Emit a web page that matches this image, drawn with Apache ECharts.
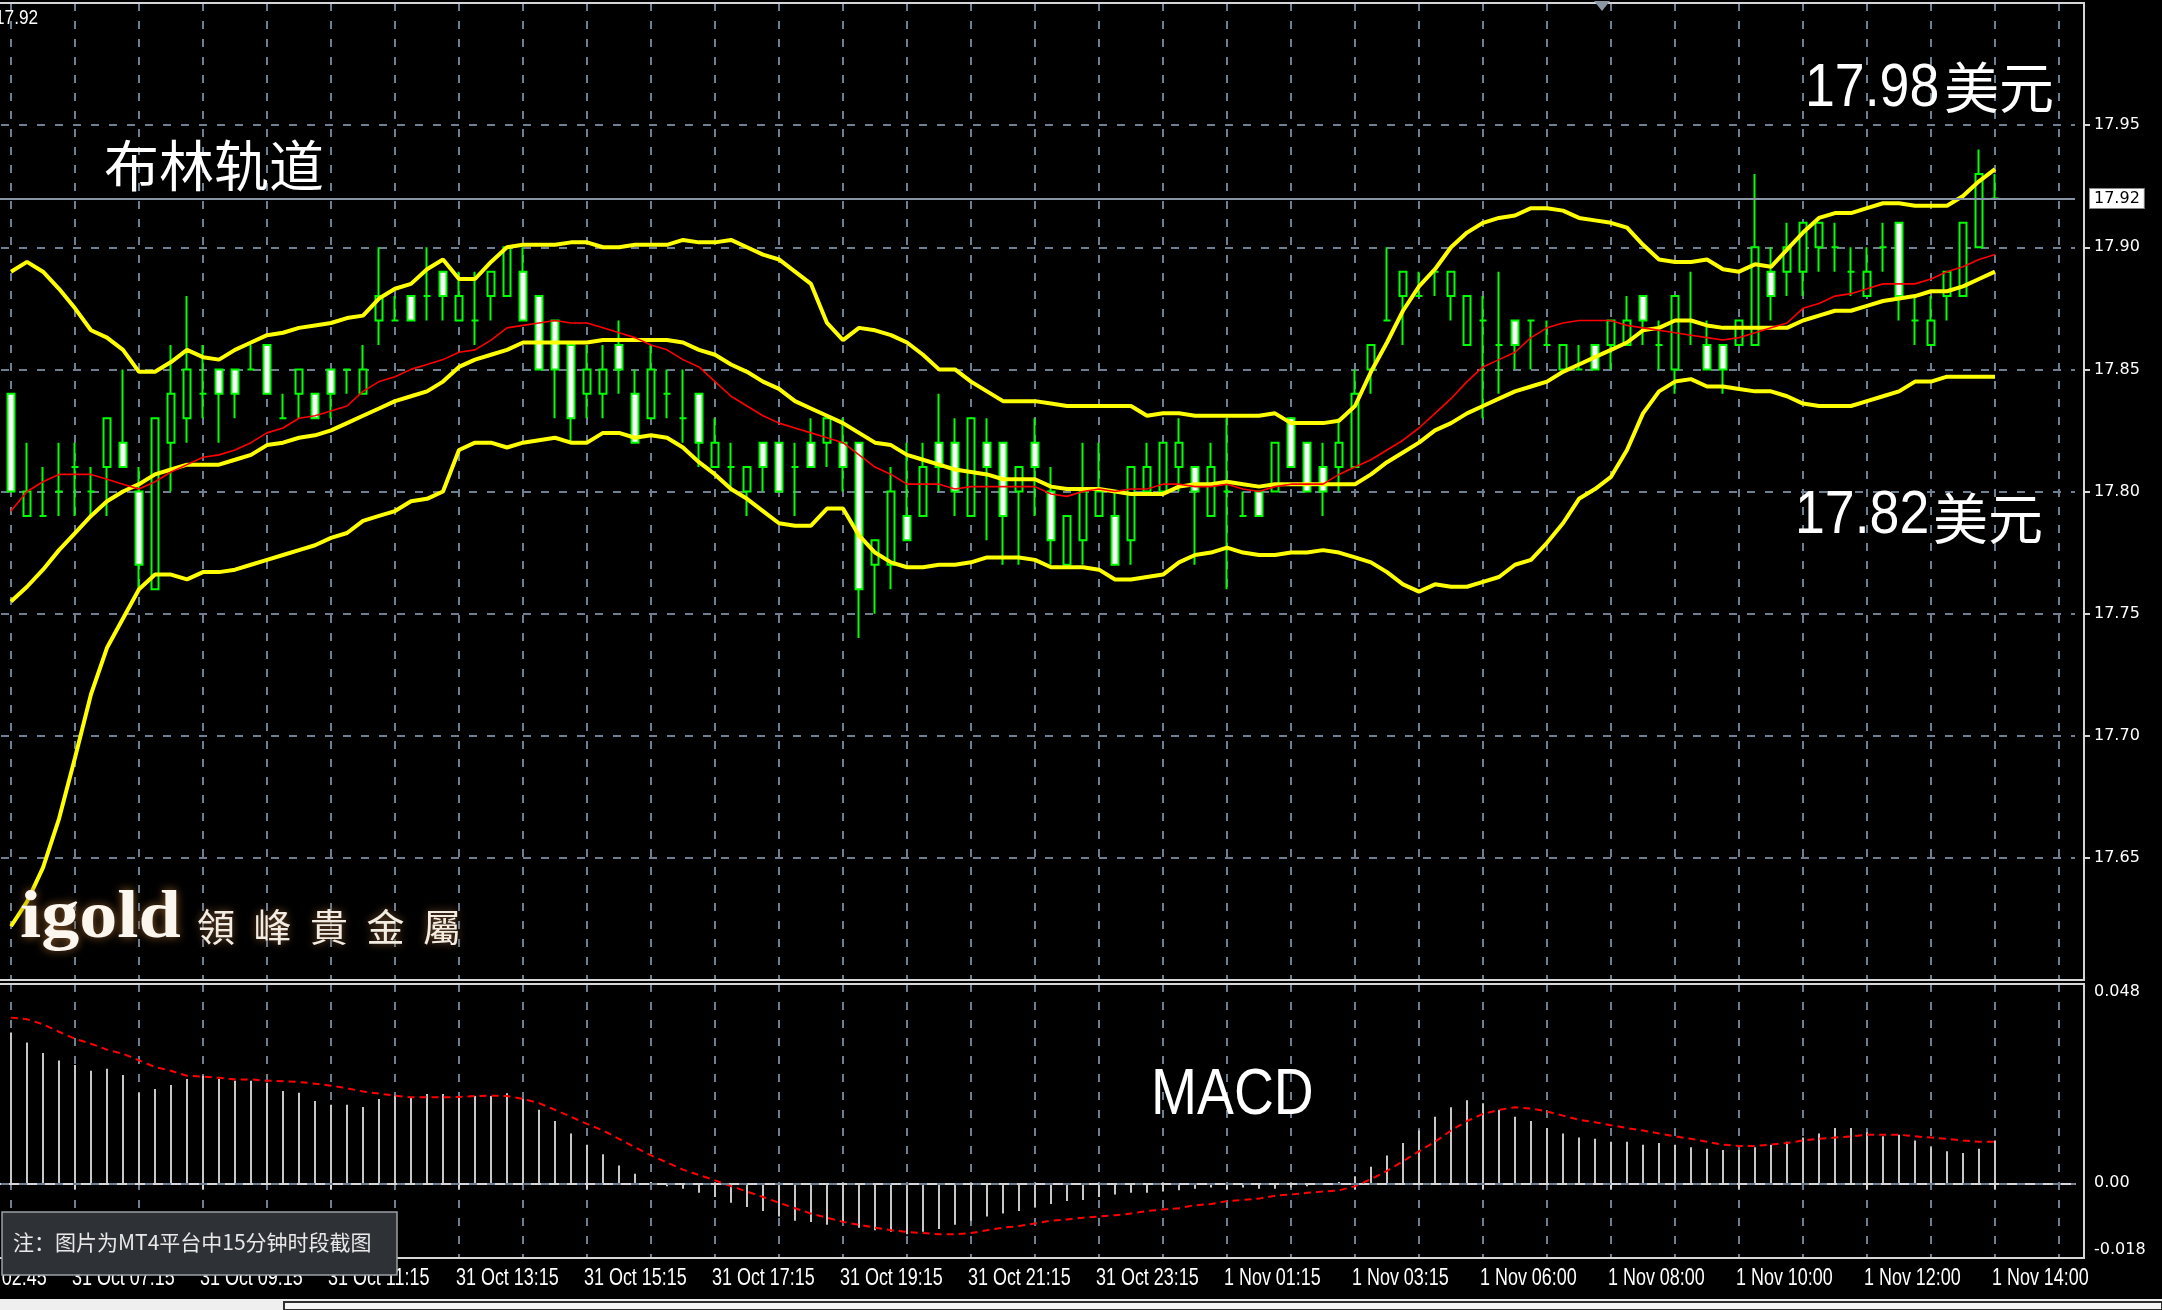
<!DOCTYPE html>
<html>
<head>
<meta charset="utf-8">
<script src="https://cdn.jsdelivr.net/npm/echarts@6/dist/echarts.min.js"></script>
<style>
html,body{margin:0;padding:0;background:#000;overflow:hidden;}
#c{width:2162px;height:1310px;}
</style>
</head>
<body>
<div id="c"></div>
<script>
// ---- data (15-minute bars, XAG/USD) ----
// bar index of each time label, and the label text
const tickBars = [-4, 4, 12, 20, 28, 36, 44, 52, 60, 68, 76, 84, 92, 100, 108, 116, 124];
const tickLabels = ['31 Oct 02:45','31 Oct 07:15','31 Oct 09:15','31 Oct 11:15','31 Oct 13:15','31 Oct 15:15','31 Oct 17:15','31 Oct 19:15','31 Oct 21:15','31 Oct 23:15','1 Nov 01:15','1 Nov 03:15','1 Nov 06:00','1 Nov 08:00','1 Nov 10:00','1 Nov 12:00','1 Nov 14:00'];

// [open, close, low, high]
const candles = [
[17.84,17.80,17.80,17.84],[17.79,17.80,17.79,17.82],[17.79,17.79,17.79,17.81],[17.80,17.80,17.79,17.82],[17.81,17.81,17.79,17.82],
[17.80,17.80,17.79,17.81],[17.81,17.83,17.79,17.83],[17.82,17.81,17.81,17.85],[17.80,17.77,17.76,17.81],[17.76,17.83,17.76,17.83],
[17.82,17.84,17.80,17.86],[17.83,17.85,17.82,17.88],[17.84,17.84,17.83,17.86],[17.85,17.84,17.82,17.85],[17.85,17.84,17.83,17.85],
[17.85,17.85,17.85,17.86],[17.86,17.84,17.84,17.86],[17.83,17.83,17.83,17.84],[17.84,17.85,17.83,17.85],[17.84,17.83,17.83,17.84],
[17.85,17.84,17.83,17.85],[17.85,17.85,17.84,17.85],[17.84,17.85,17.84,17.86],[17.87,17.88,17.86,17.90],[17.87,17.87,17.87,17.88],
[17.88,17.87,17.87,17.88],[17.88,17.88,17.87,17.90],[17.89,17.88,17.87,17.89],[17.87,17.88,17.87,17.89],[17.87,17.87,17.86,17.89],
[17.88,17.89,17.87,17.89],[17.88,17.90,17.88,17.90],[17.89,17.87,17.87,17.90],[17.88,17.85,17.85,17.88],[17.87,17.85,17.83,17.87],
[17.86,17.83,17.82,17.86],[17.84,17.85,17.83,17.86],[17.84,17.85,17.83,17.86],[17.86,17.85,17.84,17.87],[17.84,17.82,17.82,17.85],
[17.83,17.85,17.83,17.86],[17.84,17.84,17.83,17.85],[17.83,17.83,17.82,17.85],[17.84,17.82,17.81,17.84],[17.81,17.82,17.81,17.83],
[17.81,17.81,17.80,17.82],[17.80,17.81,17.79,17.81],[17.82,17.81,17.80,17.82],[17.82,17.80,17.80,17.82],[17.81,17.81,17.79,17.82],
[17.82,17.81,17.81,17.83],[17.82,17.83,17.81,17.83],[17.82,17.81,17.80,17.83],[17.82,17.76,17.74,17.82],[17.77,17.78,17.75,17.78],
[17.77,17.80,17.76,17.81],[17.79,17.78,17.78,17.82],[17.79,17.81,17.79,17.82],[17.82,17.81,17.80,17.84],[17.82,17.80,17.79,17.83],
[17.79,17.83,17.79,17.83],[17.82,17.81,17.78,17.83],[17.82,17.79,17.77,17.82],[17.80,17.81,17.77,17.81],[17.82,17.81,17.79,17.83],
[17.80,17.78,17.77,17.81],[17.77,17.79,17.77,17.79],[17.78,17.80,17.77,17.82],[17.79,17.80,17.79,17.82],[17.79,17.77,17.77,17.80],
[17.78,17.81,17.77,17.81],[17.80,17.81,17.80,17.82],[17.80,17.82,17.80,17.82],[17.81,17.82,17.80,17.83],[17.81,17.80,17.77,17.81],
[17.79,17.81,17.79,17.82],[17.80,17.80,17.76,17.83],[17.79,17.79,17.79,17.80],[17.80,17.79,17.79,17.80],[17.80,17.82,17.80,17.82],
[17.83,17.81,17.81,17.83],[17.82,17.80,17.80,17.82],[17.81,17.80,17.79,17.82],[17.81,17.82,17.80,17.83],[17.81,17.84,17.81,17.85],
[17.85,17.86,17.84,17.86],[17.87,17.87,17.87,17.90],[17.88,17.89,17.86,17.89],[17.88,17.88,17.88,17.89],[17.89,17.89,17.88,17.89],
[17.88,17.89,17.87,17.89],[17.86,17.88,17.86,17.88],[17.87,17.87,17.83,17.88],[17.86,17.86,17.84,17.89],[17.87,17.86,17.85,17.87],
[17.87,17.87,17.85,17.87],[17.86,17.86,17.86,17.87],[17.85,17.86,17.85,17.86],[17.85,17.85,17.85,17.86],[17.86,17.85,17.85,17.86],
[17.86,17.87,17.85,17.87],[17.86,17.87,17.86,17.88],[17.88,17.87,17.86,17.88],[17.86,17.86,17.85,17.87],[17.85,17.88,17.84,17.88],
[17.87,17.87,17.86,17.89],[17.86,17.85,17.85,17.87],[17.86,17.85,17.84,17.86],[17.86,17.87,17.86,17.87],[17.86,17.90,17.86,17.93],
[17.89,17.88,17.87,17.90],[17.89,17.90,17.88,17.91],[17.89,17.91,17.88,17.91],[17.90,17.91,17.89,17.91],[17.90,17.90,17.89,17.91],
[17.89,17.89,17.88,17.90],[17.88,17.89,17.88,17.90],[17.90,17.90,17.89,17.91],[17.91,17.88,17.87,17.91],[17.87,17.87,17.86,17.88],
[17.86,17.87,17.86,17.88],[17.88,17.89,17.87,17.89],[17.88,17.91,17.88,17.91],[17.90,17.93,17.90,17.94],[17.92,17.92,17.92,17.93]
];

const bollUpper = [17.890,17.894,17.890,17.883,17.875,17.866,17.863,17.858,17.849,17.849,
17.853,17.858,17.855,17.854,17.858,17.861,17.864,17.865,17.867,17.868,
17.869,17.871,17.872,17.879,17.883,17.885,17.891,17.895,17.887,17.887,
17.894,17.900,17.901,17.901,17.901,17.902,17.902,17.900,17.900,17.901,
17.901,17.901,17.903,17.902,17.902,17.903,17.900,17.897,17.895,17.890,
17.885,17.869,17.862,17.867,17.866,17.864,17.861,17.856,17.850,17.850,
17.845,17.841,17.837,17.837,17.837,17.836,17.835,17.835,17.835,17.835,
17.835,17.831,17.832,17.832,17.831,17.831,17.831,17.831,17.831,17.832,
17.828,17.828,17.828,17.829,17.835,17.849,17.861,17.874,17.884,17.891,
17.900,17.906,17.910,17.912,17.913,17.916,17.916,17.915,17.912,17.911,
17.910,17.908,17.901,17.895,17.894,17.894,17.895,17.891,17.890,17.893,
17.892,17.899,17.906,17.912,17.914,17.914,17.916,17.918,17.918,17.917,
17.917,17.917,17.921,17.927,17.932];

const bollMiddle = [17.755,17.761,17.768,17.776,17.783,17.790,17.796,17.800,17.803,17.807,
17.809,17.811,17.811,17.811,17.813,17.815,17.819,17.820,17.822,17.823,
17.825,17.828,17.831,17.834,17.837,17.839,17.841,17.845,17.851,17.854,
17.856,17.858,17.861,17.861,17.861,17.861,17.861,17.862,17.862,17.862,
17.862,17.862,17.861,17.858,17.856,17.852,17.849,17.845,17.842,17.837,
17.834,17.831,17.828,17.824,17.820,17.819,17.815,17.813,17.811,17.809,
17.808,17.807,17.805,17.805,17.805,17.802,17.801,17.801,17.801,17.800,
17.799,17.799,17.799,17.802,17.803,17.803,17.804,17.803,17.802,17.803,
17.803,17.803,17.803,17.803,17.803,17.807,17.812,17.816,17.820,17.825,
17.828,17.832,17.835,17.838,17.841,17.843,17.845,17.849,17.852,17.855,
17.858,17.861,17.866,17.867,17.870,17.870,17.868,17.867,17.867,17.867,
17.867,17.867,17.870,17.872,17.874,17.874,17.876,17.878,17.879,17.880,
17.882,17.882,17.884,17.887,17.890];

const bollLower = [17.622,17.632,17.646,17.666,17.691,17.717,17.736,17.748,17.760,17.766,
17.766,17.764,17.767,17.767,17.768,17.770,17.772,17.774,17.776,17.778,
17.781,17.783,17.788,17.790,17.792,17.796,17.797,17.800,17.817,17.820,
17.820,17.818,17.820,17.821,17.822,17.820,17.820,17.824,17.824,17.822,
17.823,17.822,17.818,17.812,17.807,17.801,17.797,17.792,17.787,17.786,
17.786,17.793,17.793,17.782,17.775,17.771,17.769,17.769,17.770,17.770,
17.771,17.773,17.773,17.773,17.772,17.769,17.769,17.769,17.768,17.764,
17.764,17.765,17.766,17.771,17.774,17.775,17.777,17.775,17.774,17.774,
17.775,17.775,17.776,17.775,17.773,17.771,17.767,17.762,17.759,17.762,
17.761,17.761,17.763,17.765,17.770,17.772,17.779,17.787,17.797,17.801,
17.806,17.817,17.832,17.841,17.845,17.846,17.843,17.843,17.842,17.841,
17.841,17.839,17.836,17.835,17.835,17.835,17.837,17.839,17.841,17.845,
17.845,17.847,17.847,17.847,17.847];

const maRed = [17.792,17.800,17.804,17.807,17.807,17.807,17.805,17.803,17.801,17.804,
17.808,17.811,17.814,17.815,17.817,17.820,17.824,17.826,17.830,17.831,
17.833,17.835,17.841,17.845,17.847,17.850,17.852,17.854,17.857,17.858,
17.862,17.867,17.868,17.869,17.870,17.869,17.869,17.867,17.865,17.863,
17.860,17.858,17.854,17.851,17.845,17.839,17.835,17.831,17.828,17.826,
17.824,17.822,17.820,17.815,17.810,17.807,17.803,17.803,17.803,17.801,
17.802,17.802,17.802,17.802,17.802,17.799,17.798,17.800,17.801,17.800,
17.801,17.801,17.803,17.803,17.802,17.802,17.803,17.801,17.800,17.802,
17.803,17.803,17.803,17.807,17.810,17.813,17.817,17.821,17.826,17.832,
17.838,17.845,17.851,17.854,17.857,17.863,17.867,17.869,17.870,17.870,
17.870,17.868,17.867,17.866,17.865,17.864,17.863,17.862,17.863,17.865,
17.867,17.869,17.875,17.877,17.880,17.881,17.883,17.885,17.885,17.885,
17.887,17.890,17.892,17.895,17.897];

const macdHist = [0.0363,0.0339,0.0314,0.0296,0.0285,0.0271,0.0276,0.0261,0.0218,0.0227,
0.0237,0.0251,0.0259,0.0251,0.0247,0.0247,0.0242,0.0222,0.0218,0.0198,
0.0189,0.0189,0.0184,0.0203,0.0211,0.0206,0.0215,0.0215,0.0210,0.0210,
0.0210,0.0217,0.0203,0.0177,0.0150,0.0120,0.0093,0.0070,0.0043,0.0023,
0.0003,-0.0007,-0.0013,-0.0023,-0.0033,-0.0047,-0.0057,-0.0067,-0.0080,-0.0090,
-0.0093,-0.0100,-0.0093,-0.0107,-0.0113,-0.0117,-0.0123,-0.0117,-0.0110,-0.0100,
-0.0090,-0.0080,-0.0073,-0.0067,-0.0057,-0.0050,-0.0043,-0.0040,-0.0033,-0.0027,
-0.0023,-0.0023,-0.0020,-0.0017,-0.0013,-0.0010,-0.0007,-0.0010,-0.0013,-0.0013,
-0.0010,-0.0007,-0.0003,0.0003,0.0017,0.0040,0.0067,0.0097,0.0127,0.0160,
0.0183,0.0200,0.0193,0.0177,0.0160,0.0150,0.0133,0.0120,0.0110,0.0107,
0.0100,0.0100,0.0093,0.0097,0.0093,0.0087,0.0083,0.0080,0.0080,0.0087,
0.0093,0.0100,0.0110,0.0120,0.0133,0.0133,0.0123,0.0113,0.0117,0.0103,
0.0087,0.0077,0.0073,0.0083,0.0103];

const macdSignal = [0.0399,0.0395,0.0383,0.0365,0.0348,0.0336,0.0322,0.0312,0.0296,0.0280,
0.0271,0.0259,0.0257,0.0254,0.0250,0.0250,0.0247,0.0246,0.0244,0.0240,
0.0235,0.0229,0.0221,0.0216,0.0211,0.0207,0.0207,0.0207,0.0208,0.0210,
0.0211,0.0210,0.0203,0.0193,0.0177,0.0160,0.0143,0.0127,0.0107,0.0087,
0.0067,0.0050,0.0033,0.0020,0.0007,-0.0007,-0.0020,-0.0033,-0.0047,-0.0060,
-0.0073,-0.0083,-0.0093,-0.0100,-0.0107,-0.0113,-0.0117,-0.0120,-0.0123,-0.0123,
-0.0120,-0.0113,-0.0107,-0.0103,-0.0097,-0.0090,-0.0087,-0.0083,-0.0080,-0.0077,
-0.0073,-0.0067,-0.0063,-0.0060,-0.0053,-0.0050,-0.0043,-0.0040,-0.0037,-0.0030,
-0.0027,-0.0023,-0.0020,-0.0017,-0.0007,0.0010,0.0030,0.0053,0.0077,0.0100,
0.0127,0.0150,0.0167,0.0177,0.0183,0.0180,0.0173,0.0163,0.0153,0.0147,
0.0140,0.0133,0.0127,0.0120,0.0113,0.0107,0.0100,0.0093,0.0090,0.0090,
0.0093,0.0097,0.0103,0.0107,0.0110,0.0113,0.0117,0.0117,0.0117,0.0113,
0.0110,0.0107,0.0103,0.0100,0.0100];

const priceTicks = {min: 17.60, max: 18.00, step: 0.05};
const macdTicks = {min: -0.018, max: 0.048, step: 0.006, shown: [0.048, 0, -0.018], text: ['0.048', '0.00', '-0.018']};
const currentPrice = candles[candles.length - 1][1];

// ---- layout helpers ----
const PRE = 4, POST = 5;
const cats = [];
for (let k = 0; k < PRE + candles.length + POST; k++) cats.push(String(k - PRE));
const pad = (arr, empty) => [...Array(PRE).fill(empty), ...arr, ...Array(POST).fill(empty)];
const emptyCandle = () => ['-', '-', '-', '-'];
const candleData = [...Array.from({length: PRE}, emptyCandle), ...candles, ...Array.from({length: POST}, emptyCandle)];

const GRIDC = '#6e7f92';
const DASH = [8, 10];
const FRAME = '#d6d6d6';

const macdFmt = (v) => {
  for (let j = 0; j < macdTicks.shown.length; j++) {
    if (Math.abs(v - macdTicks.shown[j]) < 1e-6) return macdTicks.text[j];
  }
  return '';
};

const chart = echarts.init(document.getElementById('c'), null, {width: 2162, height: 1310});

const txtStyle = (t, size, family, extra) => Object.assign({
  text: t, fill: '#ffffff', fontSize: size, fontFamily: family,
  align: 'left', verticalAlign: 'middle', textAlign: 'left', textVerticalAlign: 'middle'
}, extra || {});
const CJK = "'Noto Sans CJK SC', sans-serif";
const SANS = "'Liberation Sans', Arial, sans-serif";

const logoChars = ['領', '峰', '貴', '金', '屬'];
const logoEls = logoChars.map((ch, j) => ({
  type: 'text', x: 197 + j * 56.5, y: 927, z: 100, silent: true,
  style: txtStyle(ch, 38, "'Noto Sans CJK TC', sans-serif",
    {fill: '#f3ece2', textShadowColor: '#7a5230', textShadowBlur: 8, shadowColor: '#7a5230', shadowBlur: 8})
}));

const graphics = [
  {type: 'rect', z: 50, silent: true, shape: {x: -10, y: 3, width: 2094, height: 977},
    style: {fill: 'none', stroke: FRAME, lineWidth: 2}},
  {type: 'rect', z: 50, silent: true, shape: {x: -10, y: 984, width: 2094, height: 274},
    style: {fill: 'none', stroke: FRAME, lineWidth: 2}},
  {type: 'polygon', z: 50, silent: true, shape: {points: [[1594, 1], [1610, 1], [1602, 11]]},
    style: {fill: '#8a97a5'}},
  {type: 'text', x: -5, y: 18, z: 60, scaleX: 0.82, silent: true, style: txtStyle('17.92', 21, SANS)},
  {type: 'text', x: 104, y: 165, z: 100, silent: true, style: txtStyle('布林轨道', 55, CJK)},
  {type: 'text', x: 1805, y: 89, z: 100, scaleX: 0.88, silent: true, style: txtStyle('17.98', 61, SANS)},
  {type: 'text', x: 1944, y: 87, z: 100, silent: true, style: txtStyle('美元', 55, CJK)},
  {type: 'text', x: 1795, y: 516, z: 100, scaleX: 0.88, silent: true, style: txtStyle('17.82', 61, SANS)},
  {type: 'text', x: 1933, y: 518, z: 100, silent: true, style: txtStyle('美元', 55, CJK)},
  {type: 'text', x: 1151, y: 1096, z: 100, scaleX: 0.85, silent: true, style: txtStyle('MACD', 65, SANS)},
  {type: 'text', x: 20, y: 919, z: 100, scaleX: 1.12, silent: true,
    style: txtStyle('igold', 68, "'Liberation Serif', 'DejaVu Serif', serif",
      {fill: '#fbf6ee', fontWeight: 'bold', textShadowColor: '#8a5a2b', textShadowBlur: 10, shadowColor: '#8a5a2b', shadowBlur: 10})},
  ...logoEls,
  {type: 'rect', z: 110, silent: true, shape: {x: 2, y: 1212, width: 395, height: 63},
    style: {fill: '#2e3136', stroke: '#9aa0a6', lineWidth: 1.5}},
  {type: 'text', x: 13, y: 1242, z: 120, silent: true,
    style: txtStyle('注：图片为MT4平台中15分钟时段截图', 21, CJK, {fill: '#e8e8e8'})},
  {type: 'rect', z: 50, silent: true, shape: {x: 0, y: 1299, width: 2162, height: 11},
    style: {fill: '#efefef'}},
  {type: 'rect', z: 51, silent: true, shape: {x: 284, y: 1302, width: 1878, height: 8},
    style: {fill: '#f7f7f7', stroke: '#303030', lineWidth: 2}}
];

const option = {
  backgroundColor: '#000000',
  animation: false,
  grid: [
    {left: -53, top: 3, width: 2128, height: 977, show: false, containLabel: false, outerBoundsMode: 'none'},
    {left: -53, top: 984, width: 2128, height: 274, show: false, containLabel: false, outerBoundsMode: 'none'}
  ],
  xAxis: [
    {type: 'category', gridIndex: 0, data: cats, boundaryGap: false,
      axisLine: {show: false}, axisTick: {show: false}, axisLabel: {show: false},
      splitLine: {show: true, interval: 3, lineStyle: {color: GRIDC, type: DASH, width: 2}}},
    {type: 'category', gridIndex: 1, data: cats, boundaryGap: false,
      axisLine: {show: true, lineStyle: {color: FRAME, width: 2}},
      axisTick: {show: true, interval: 7, length: 6, lineStyle: {color: FRAME, width: 2}},
      axisLabel: {show: false},
      splitLine: {show: true, interval: 3, lineStyle: {color: GRIDC, type: DASH, width: 2}}}
  ],
  yAxis: [
    {type: 'value', gridIndex: 0, position: 'right', offset: 9,
      min: priceTicks.min, max: priceTicks.max, interval: priceTicks.step,
      axisLine: {show: false},
      axisTick: {show: true, length: 6, lineStyle: {color: FRAME, width: 2}},
      axisLabel: {show: true, showMinLabel: false, showMaxLabel: false, formatter: v => v.toFixed(2),
        color: '#ffffff', fontSize: 16, fontFamily: "'DejaVu Sans', sans-serif", margin: 10},
      splitLine: {show: true, lineStyle: {color: GRIDC, type: DASH, width: 2}}},
    {type: 'value', gridIndex: 1, position: 'right', offset: 9,
      min: macdTicks.min, max: macdTicks.max, interval: macdTicks.step,
      axisLine: {show: false}, axisTick: {show: false},
      axisLabel: {show: true, formatter: macdFmt, color: '#ffffff', fontSize: 16,
        fontFamily: "'DejaVu Sans', sans-serif", margin: 10,
        verticalAlignMaxLabel: 'top', verticalAlignMinLabel: 'bottom'},
      splitLine: {show: false}}
  ],
  series: [
    {type: 'candlestick', name: 'XAGUSD', xAxisIndex: 0, yAxisIndex: 0, data: candleData,
      barWidth: 7, z: 2,
      itemStyle: {color: '#000000', color0: '#ffffff', borderColor: '#00ff00', borderColor0: '#00ff00',
        borderColorDoji: '#00ff00', borderWidth: 2},
      markLine: {silent: true, symbol: ['none', 'none'], animation: false,
        lineStyle: {color: '#8795a4', type: 'solid', width: 2},
        label: {show: true, position: 'end', distance: 15, formatter: p => p.value.toFixed(2),
          backgroundColor: '#ffffff', color: '#000000', fontSize: 16,
          fontFamily: "'DejaVu Sans', sans-serif", padding: [2, 4, 1, 4], borderColor: '#888', borderWidth: 1},
        data: [{yAxis: currentPrice}]}},
    {type: 'line', name: 'BB upper', xAxisIndex: 0, yAxisIndex: 0, data: pad(bollUpper, '-'),
      symbol: 'none', z: 4, lineStyle: {color: '#ffff00', width: 4}},
    {type: 'line', name: 'BB middle', xAxisIndex: 0, yAxisIndex: 0, data: pad(bollMiddle, '-'),
      symbol: 'none', z: 4, lineStyle: {color: '#ffff00', width: 4}},
    {type: 'line', name: 'BB lower', xAxisIndex: 0, yAxisIndex: 0, data: pad(bollLower, '-'),
      symbol: 'none', z: 4, lineStyle: {color: '#ffff00', width: 4}},
    {type: 'line', name: 'MA', xAxisIndex: 0, yAxisIndex: 0, data: pad(maRed, '-'),
      symbol: 'none', z: 5, lineStyle: {color: '#ff0000', width: 1.6}},
    {type: 'bar', name: 'MACD', xAxisIndex: 1, yAxisIndex: 1, data: pad(macdHist, '-'),
      barWidth: 2, z: 2, itemStyle: {color: '#c8c8c8'},
      markLine: {silent: true, symbol: ['none', 'none'], animation: false, label: {show: false},
        lineStyle: {color: GRIDC, type: DASH, width: 2}, data: [{yAxis: 0}]}},
    {type: 'line', name: 'Signal', xAxisIndex: 1, yAxisIndex: 1, data: pad(macdSignal, '-'),
      symbol: 'none', z: 3, lineStyle: {color: '#ff0000', width: 2, type: [7, 5]}}
  ],
  graphic: graphics
};
chart.setOption(option);

// time labels: placed at the category positions computed by the x axis scale
const timeLabelEls = tickBars.map((b, j) => ({
  type: 'text', x: chart.convertToPixel({xAxisIndex: 1}, String(b)) - 3, y: 1279, z: 40,
  scaleX: 0.78, silent: true, style: txtStyle(tickLabels[j], 23, SANS)
}));
chart.setOption({graphic: graphics.concat(timeLabelEls)});
</script>
</body>
</html>
